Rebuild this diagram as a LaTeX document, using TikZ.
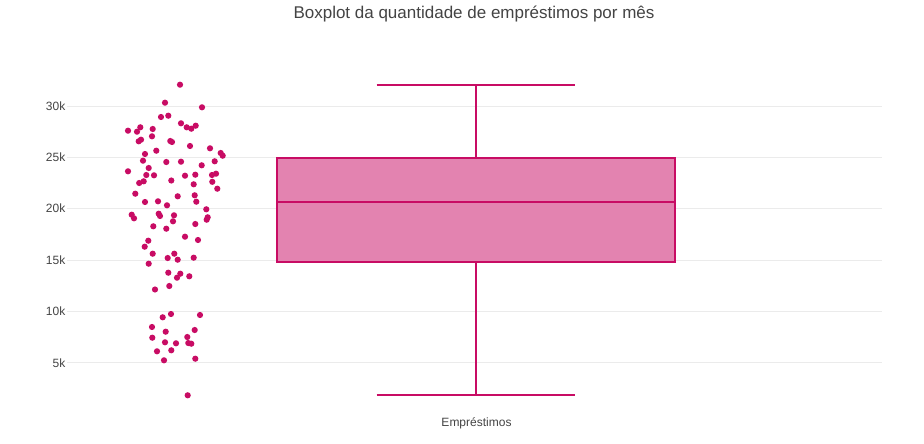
\documentclass[tikz,border=0pt]{standalone}
\usepackage{fontspec}
\setmainfont{Liberation Sans}
\definecolor{plotred}{RGB}{200,12,100}
\definecolor{boxfill}{RGB}{227,131,176}
\definecolor{txtgray}{RGB}{68,68,68}
\definecolor{gridgray}{RGB}{235,235,235}
\tikzset{
  gridline/.style={draw=gridgray, line width=0.8pt},
  ticklabel/.style={anchor=base east, text=txtgray, font=\fontsize{12}{14}\selectfont, inner sep=0pt},
  plotline/.style={draw=plotred, line width=2pt},
  dot/.style={fill=plotred},
}
\begin{document}
\begin{tikzpicture}[x=1pt,y=-1pt]
\useasboundingbox (0,0) rectangle (924,444);
\fill[white] (0,0) rectangle (924,444);
% grid and tick labels
\foreach \v/\yy in {30k/106, 25k/157.3, 20k/208.5, 15k/260, 10k/311.3, 5k/362.7}{
  \draw[gridline] (67,\yy) -- (882,\yy);
  \node[ticklabel] at (65.5,\yy+4.3) {\v};
}
% title
\node[anchor=base, inner sep=0pt, text=txtgray, font=\fontsize{17}{20}\selectfont] (title) at (474,18.3) {Boxplot da quantidade de empréstimos por mês};
% box
\coordinate (boxtl) at (276.7,158.3);
\coordinate (boxbr) at (675,261.7);
\fill[boxfill] (boxtl) rectangle (boxbr);
\draw[plotline] (boxtl) rectangle (boxbr);
\coordinate (medl) at (276.7,202);
\coordinate (medr) at (675,202);
\draw[plotline] (medl) -- (medr);
\coordinate (wtop) at (476,84.7);
\coordinate (wbot) at (476,395);
\draw[plotline] (476,158.3) -- (wtop);
\draw[plotline] (476,261.7) -- (wbot);
\draw[plotline] (376.7,84.7) -- (575.3,84.7);
\draw[plotline] (376.7,395) -- (575.3,395);
% category label
\node[anchor=base, inner sep=0pt, text=txtgray, font=\fontsize{12}{14}\selectfont] (cat) at (476.5,426) {Empréstimos};
% points
\foreach \px/\py in {
180/84.7, 165/102.7, 202/107.3, 161/117, 168.3/115.7, 181/123.3, 186.7/127.3, 191.3/128.7,
195.7/125.7, 128/130.7, 137/131.7, 140.3/127.3, 152.7/129, 152/136.3, 138.7/141.3, 141/139.7,
170.3/141, 172/142, 190/146, 210/148.3, 220.7/153, 222.7/155.7, 145/154, 156.3/150.7,
143/160.7, 166.3/162, 181/161.7, 214.7/161.3, 201.7/165.3, 148.7/168, 128/171.3, 146.3/175,
154/175.3, 185/175.7, 195.3/174.7, 212/175, 216/173.7, 171.3/180.5, 139.2/183, 143.7/181.3,
193.7/184.3, 212.3/181.8,
217.3/188.7, 135.3/193.7, 145/202, 158/201.3, 167/205.3, 177.7/196.3, 194.7/195.3, 196.3/201.7,
206.3/209.3, 207.7/217.3, 206.7/219.7, 131.7/214.7, 134/218.3, 158.7/213.7, 160/216, 174/215.3,
173/221.3, 195.3/224, 153.3/226.3, 166.3/228.7, 185/236.7, 198/240, 148.3/240.7, 144.7/246.7,
152.7/253.7, 174.3/253.7, 167.7/258, 177.7/259.7, 193.7/257.7, 148.7/263.7, 168.3/272.7,
180.3/273.7, 177/277.7, 189.3/276.3, 155/289.5, 169.3/286,
162.7/317.3, 171/314, 200/315, 152/327, 165.7/331.7, 194.7/330, 152.3/337.7, 165/342.3,
176/343.3, 187.3/337, 188.3/343, 191.3/343.7, 157/351.3, 171.3/350.3, 164/360.3, 195.3/358.7,
187.7/395.3}{
  \fill[dot] (\px,\py) circle (3.1);
}
\end{tikzpicture}
\end{document}
